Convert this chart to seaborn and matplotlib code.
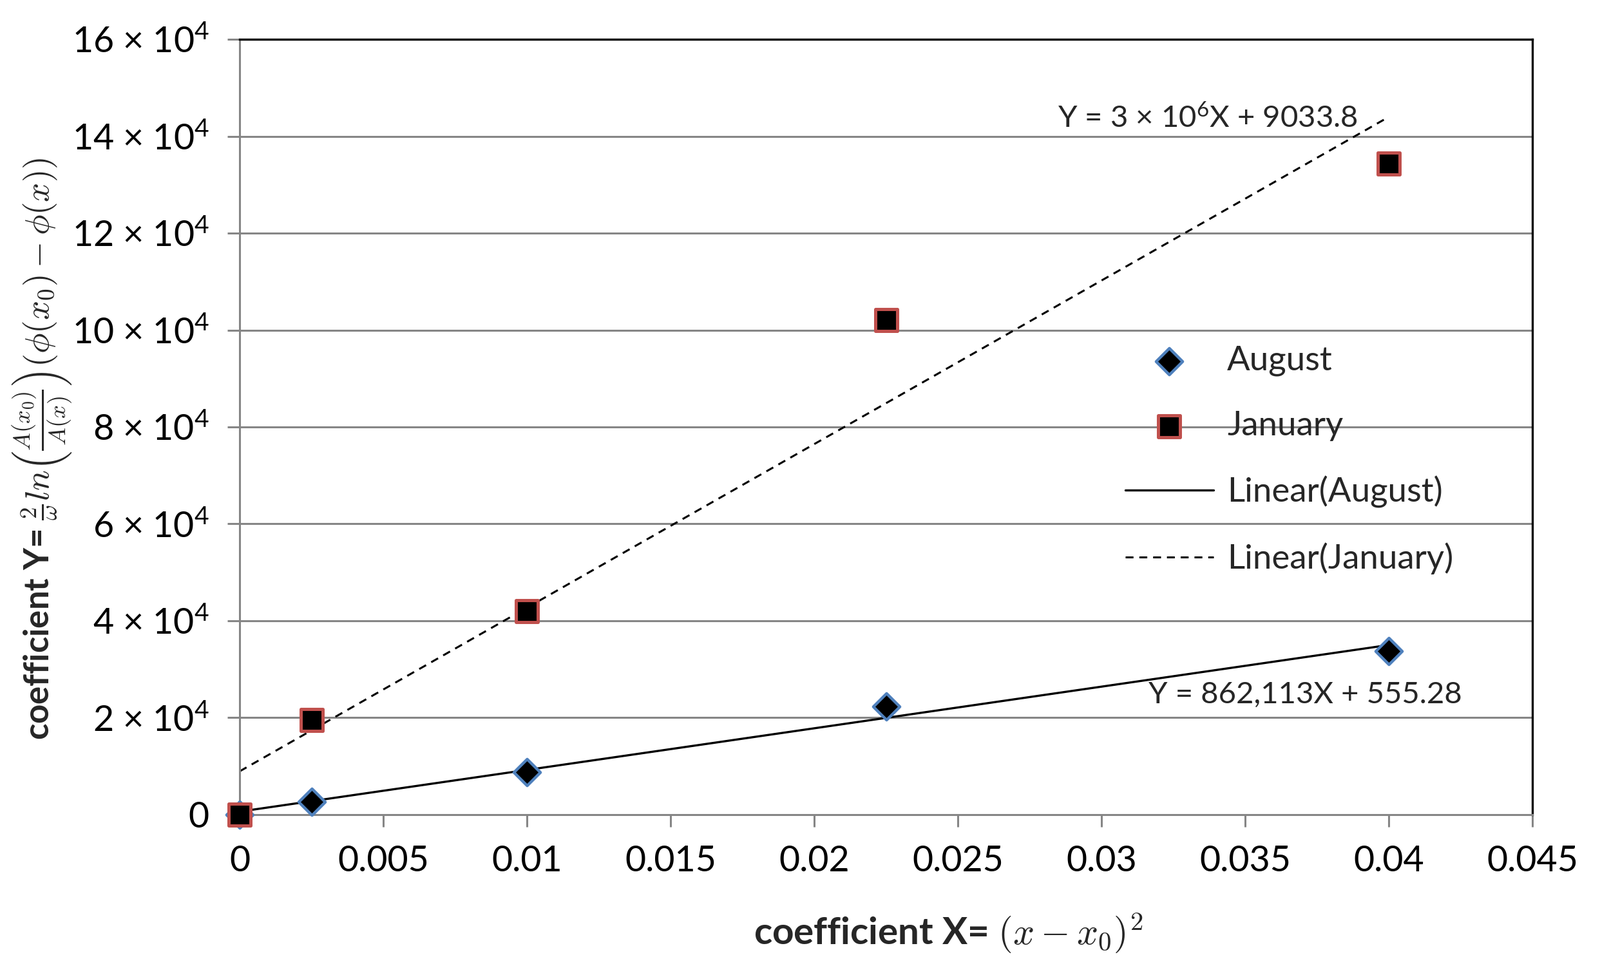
import numpy as np
import pandas as pd
import matplotlib
matplotlib.use("Agg")
import matplotlib.pyplot as plt
import seaborn as sns

# ---- data ----
x_values = [0.0, 0.0025, 0.01, 0.0225, 0.04]
august_values = [0, 2700, 8800, 22300, 33800]
january_values = [0, 19500, 42000, 102000, 134400]
series_names = ["August", "January"]
trend_names = ["Linear(August)", "Linear(January)"]
y_tick_values = [0, 20000, 40000, 60000, 80000, 100000, 120000, 140000, 160000]
y_tick_labels = ["0"] + [f"{v // 10000} × 10$^{{4}}$" for v in y_tick_values[1:]]
x_tick_values = [0, 0.005, 0.01, 0.015, 0.02, 0.025, 0.03, 0.035, 0.04, 0.045]
x_tick_labels = ["0", "0.005", "0.01", "0.015", "0.02", "0.025", "0.03", "0.035", "0.04", "0.045"]
eq_january = "Y = 3 × 10$^{6}$X + 9033.8"
eq_august = "Y = 862,113X + 555.28"

df = pd.DataFrame({"x": x_values, "August": august_values, "January": january_values})

sns.set_theme(style="white")
plt.rcParams["font.family"] = ["Lato", "DejaVu Sans"]
plt.rcParams["mathtext.fontset"] = "custom"
plt.rcParams["mathtext.rm"] = "Lato"
plt.rcParams["mathtext.it"] = "Lato:italic"
plt.rcParams["mathtext.bf"] = "Lato:bold"

fig = plt.figure(figsize=(12.42, 7.5), dpi=200)
ax = fig.add_axes([0.1498, 0.1567, 0.8079, 0.8026])

grey = "#868686"

# trend lines
sns.regplot(data=df, x="x", y="August", scatter=False, ci=None, color="black",
            line_kws=dict(lw=1.2, ls="-"), ax=ax)
ax.lines[-1].set_label(trend_names[0])
sns.regplot(data=df, x="x", y="January", scatter=False, ci=None, color="black",
            line_kws=dict(lw=1.1, ls=(0, (4, 3))), ax=ax)
ax.lines[-1].set_label(trend_names[1])

# scatter points
sns.scatterplot(data=df, x="x", y="August", marker="D", s=110, color="black",
                edgecolor="#4F81BD", linewidth=1.6, label=series_names[0], ax=ax,
                zorder=4, clip_on=False)
sns.scatterplot(data=df, x="x", y="January", marker="s", s=150, color="black",
                edgecolor="#C0504D", linewidth=1.8, label=series_names[1], ax=ax,
                zorder=5, clip_on=False)

ax.set_xlim(0, 0.045)
ax.set_ylim(0, 160000)
ax.set_xticks(x_tick_values)
ax.set_xticklabels(x_tick_labels)
ax.set_yticks(y_tick_values)
ax.set_yticklabels(y_tick_labels)

for yv in y_tick_values[1:-1]:
    ax.axhline(yv, color=grey, lw=1.1, zorder=0)

for side in ["left", "bottom"]:
    ax.spines[side].set_color(grey)
    ax.spines[side].set_linewidth(1.1)
for side in ["top", "right"]:
    ax.spines[side].set_color("black")
    ax.spines[side].set_linewidth(1.2)

ax.tick_params(axis="both", which="major", labelsize=20, colors="black",
               length=7, width=1.1, color=grey, direction="out")
ax.tick_params(axis="x", pad=10)
ax.tick_params(axis="y", pad=10)
ax.tick_params(bottom=True, left=True)

ax.set_xlabel(r"coefficient X= $(x - x_0)^2$", fontsize=21, fontweight="bold",
              math_fontfamily="cm")
ax.set_ylabel(r"coefficient Y= $\frac{2}{\omega}ln\left(\frac{A(x_0)}{A(x)}\right)\left(\phi(x_0) - \phi(x)\right)$",
              fontsize=19, fontweight="bold", math_fontfamily="cm")
ax.xaxis.set_label_coords(0.548, -0.125)
ax.yaxis.set_label_coords(-0.128, 0.472)

ax.text(0.0337, 143800, eq_january, fontsize=17, ha="center", va="center")
ax.text(0.0371, 24800, eq_august, fontsize=17, ha="center", va="center")

handles, labels = ax.get_legend_handles_labels()
order = [labels.index(n) for n in series_names + trend_names]
ax.legend([handles[i] for i in order], [labels[i] for i in order],
          loc="upper left", bbox_to_anchor=(0.685, 0.605), frameon=False,
          fontsize=19, labelspacing=1.02, handlelength=2.6, handletextpad=0.4,
          borderpad=0, borderaxespad=0)

fig.savefig("out.png", dpi=200)
